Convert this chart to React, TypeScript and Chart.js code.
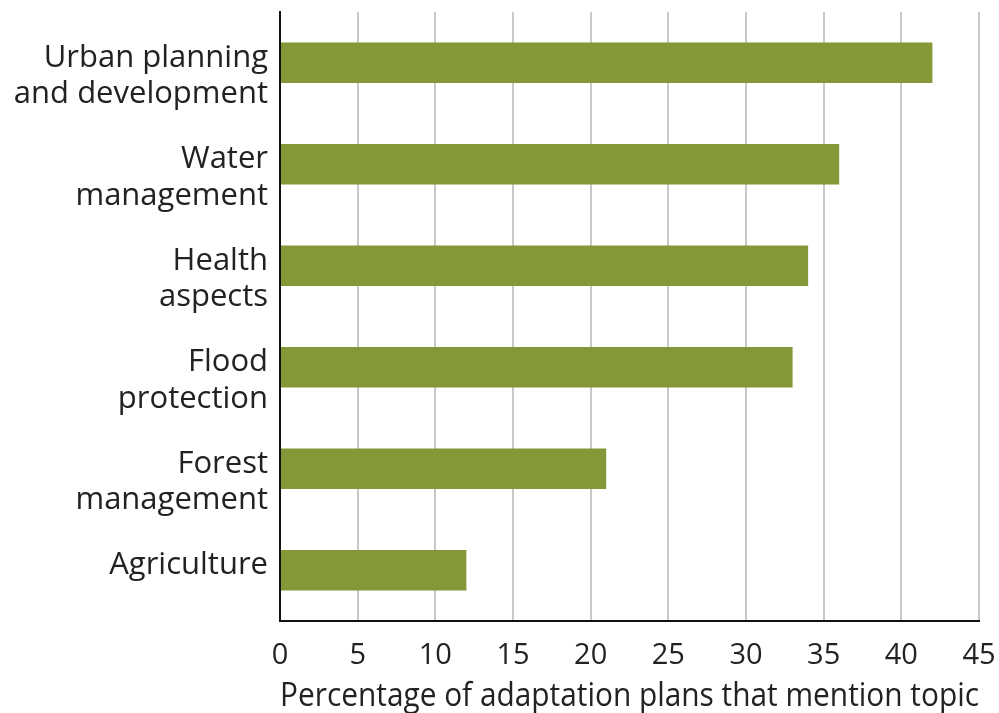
import React, { useEffect, useRef } from "react";
import { Chart, registerables } from "chart.js";

Chart.register(...registerables);

const categories: string[][] = [
  ["Urban planning", "and development"],
  ["Water", "management"],
  ["Health", "aspects"],
  ["Flood", "protection"],
  ["Forest", "management"],
  ["Agriculture"],
];
const values: number[] = [42, 36, 34, 33, 21, 12];
const xTitle = "Percentage of adaptation plans that mention topic";

export default function App() {
  const ref = useRef<HTMLCanvasElement | null>(null);
  useEffect(() => {
    if (!ref.current) return;
    const font = "'Open Sans', sans-serif";
    const chart = new Chart(ref.current, {
      type: "bar",
      data: {
        labels: categories.map((c) => c.join(" ")),
        datasets: [
          {
            data: values,
            backgroundColor: "#849837",
            barPercentage: 0.8,
            categoryPercentage: 0.5,
          },
        ],
      },
      options: {
        indexAxis: "y",
        animation: false,
        responsive: false,
        maintainAspectRatio: false,
        layout: { padding: { top: 12, right: 20, left: 0, bottom: 0 } },
        plugins: { legend: { display: false }, tooltip: { enabled: false } },
        scales: {
          x: {
            min: 0,
            max: 45,
            ticks: { stepSize: 5, color: "#222", font: { family: font, size: 29, lineHeight: 1.2 }, padding: 17 },
            grid: { color: "#c8c8c8", lineWidth: 2, drawTicks: false },
            border: { display: true, color: "#111", width: 2 },
            title: { display: true, text: xTitle, color: "#222", font: { family: font, size: 33, lineHeight: 1.0 }, padding: { top: 0, bottom: 0 } },
            afterFit: (s: any) => { s.height = 92; s.paddingLeft = 0; s.paddingRight = 0; },
          },
          y: {
            ticks: {
              color: "#222",
              font: { family: font, size: 31, lineHeight: 1.18 },
              padding: 12,
              labelOffset: -5,
              autoSkip: false,
              callback: (_v: any, i: number) => {
                const lines = categories[i];
                return lines.length > 1 ? ["", ...lines] : lines;
              },
            },
            grid: { display: false, drawTicks: false },
            border: { display: true, color: "#111", width: 2 },
            afterFit: (s: any) => { s.width = 280; s.paddingTop = 0; s.paddingBottom = 0; },
          },
        },
      },
    });
    return () => chart.destroy();
  }, []);
  return (
    <div style={{ position: "fixed", left: 0, top: 0, width: 999, height: 713, background: "#fff" }}>
      <canvas ref={ref} width={999} height={713} style={{ width: 999, height: 713 }} />
    </div>
  );
}
